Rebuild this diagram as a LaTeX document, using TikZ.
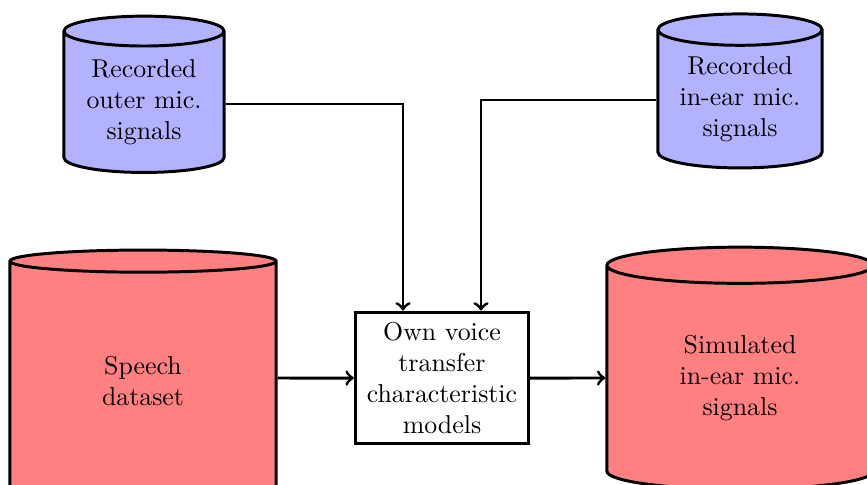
\documentclass[tikz,border=0pt]{standalone}
\usetikzlibrary{shapes.geometric}
\begin{document}
\begin{tikzpicture}[x=0.387pt,y=-0.387pt,
  store/.style={shape=cylinder, shape border rotate=90, draw, line width=1.15pt,
    align=center, inner sep=0pt},
  smallstore/.style={store, fill=blue!30, minimum width=62pt, minimum height=60.5pt, aspect=0.26},
  bigstore/.style={store, fill=red!50, minimum width=103pt},
  proc/.style={draw, line width=1.15pt, align=center, minimum width=67pt, minimum height=51pt, inner sep=1pt},
  link/.style={->, line width=1.15pt}]
\clip (0,0) rectangle (867,484);
\node[smallstore] (outer) at (144,102.5) {Recorded\\outer mic.\\signals};
\node[smallstore, minimum width=63.5pt, minimum height=59.6pt] (inear) at (740,99.5) {Recorded\\in-ear mic.\\signals};
\node[bigstore, aspect=0.27, minimum height=96.5pt] (speech) at (143,381) {Speech\\dataset};
\node[bigstore, aspect=0.3, minimum height=93.7pt] (sim) at (740,378) {Simulated\\in-ear mic.\\signals};
\node[proc] (ovtc) at (442,378) {Own voice\\transfer\\characteristic\\models};
\draw[link] ([yshift=-1.5*0.387pt]outer.east) -| ([xshift=-39*0.387pt]ovtc.north);
\draw[link] ([yshift=-0.5*0.387pt]inear.west) -| ([xshift=39*0.387pt]ovtc.north);
\draw[link] ([yshift=3*0.387pt]speech.east) -- (ovtc.west);
\draw[link] (ovtc.east) -- (sim.west);
\end{tikzpicture}
\end{document}
